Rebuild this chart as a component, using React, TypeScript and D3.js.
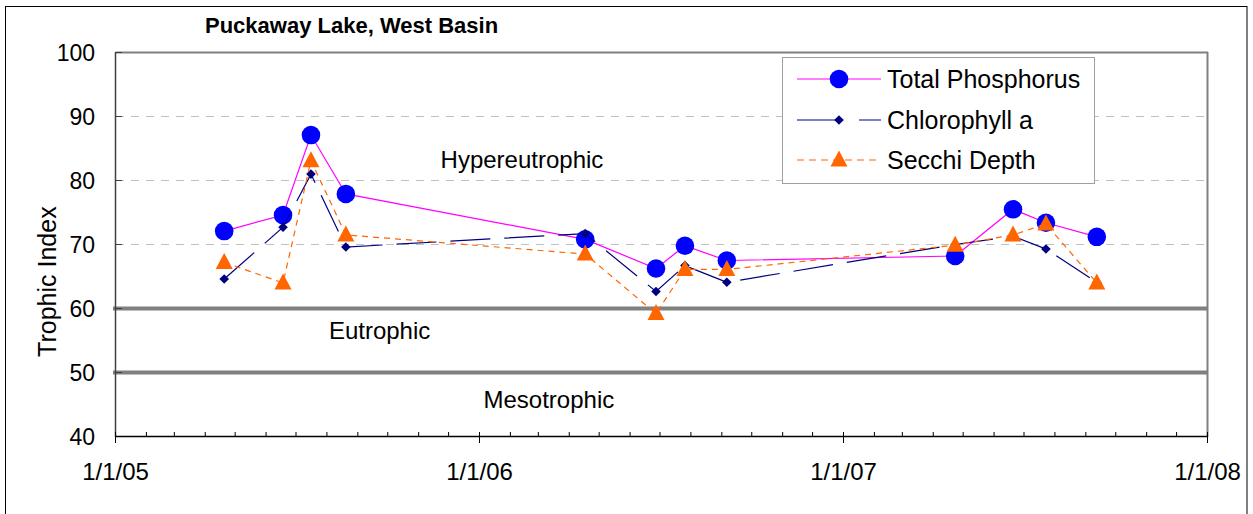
import React from "react";
import * as d3 from "d3";

const tpDates = ["2005-04-20","2005-06-18","2005-07-16","2005-08-20","2006-04-17","2006-06-27","2006-07-26","2006-09-06","2007-04-23","2007-06-20","2007-07-23","2007-09-12"];
const tpValues = [72.1, 74.6, 87.1, 77.9, 70.8, 66.25, 69.8, 67.5, 68.2, 75.5, 73.4, 71.2];
const chlValues = [64.6, 72.7, 81.0, 69.6, 71.7, 62.65, 66.7, 64.1, 70.0, 71.3, 69.3, 64.1];
const secchiValues = [67.2, 64.0, 83.1, 71.5, 68.5, 59.2, 66.1, 66.1, 69.9, 71.5, 73.2, 64.0];
const xTickLabels = ["1/1/05", "1/1/06", "1/1/07", "1/1/08"];
const yTicks = [40, 50, 60, 70, 80, 90, 100];
const gridValues = [70, 80, 90];
const boundaryValues = [50, 60];
const zones = [
  { name: "Hypereutrophic", value: 83.3, date: "2005-11-23" },
  { name: "Eutrophic", value: 56.6, date: "2005-08-03" },
  { name: "Mesotrophic", value: 45.7, date: "2006-01-05" },
];
const seriesNames = ["Total Phosphorus", "Chlorophyll a", "Secchi Depth"];
const title = "Puckaway Lake, West Basin";
const yTitle = "Trophic Index";

const FONT = "'Liberation Sans', Arial, sans-serif";

export default function App() {
  const W = 1253, H = 514;
  const parse = d3.utcParse("%Y-%m-%d");
  const x = d3.scaleUtc()
    .domain([parse("2005-01-01")!, parse("2008-01-01")!])
    .range([115.5, 1207.5]);
  const y = d3.scaleLinear().domain([40, 100]).range([436.5, 52.5]);
  const dates = tpDates.map((d) => parse(d)!);
  const majorTicks = d3.utcYear.range(parse("2005-01-01")!, parse("2008-01-02")!);
  const minorTicks = d3.utcMonth.range(parse("2005-01-01")!, parse("2008-01-01")!);
  const line = d3.line<[Date, number]>().x((d) => x(d[0])).y((d) => y(d[1]));
  const mk = (vals: number[]) => dates.map((d, i) => [d, vals[i]] as [Date, number]);

  const circle = (cx: number, cy: number, k: string) => (
    <circle key={k} cx={cx} cy={cy} r={9.3} fill="#0000FF" />
  );
  const diamond = (cx: number, cy: number, k: string) => (
    <path key={k} d={`M${cx},${cy - 4.8}L${cx + 4.8},${cy}L${cx},${cy + 4.8}L${cx - 4.8},${cy}Z`} fill="#000080" />
  );
  const tri = (cx: number, cy: number, k: string) => (
    <path key={k} d={`M${cx},${cy - 9.5}L${cx + 8.5},${cy + 6.5}L${cx - 8.5},${cy + 6.5}Z`} fill="#FF6600" />
  );

  const series = [
    { vals: tpValues, stroke: "#FF00FF", dash: undefined, marker: circle },
    { vals: chlValues, stroke: "#000080", dash: "40,14", marker: diamond },
    { vals: secchiValues, stroke: "#FF6600", dash: "6,5", marker: tri },
  ];

  const legendX = 782, legendY = 57, legendW = 312, legendH = 126;
  const legendRows = [79, 120, 160];

  return (
    <svg width={W} height={H} style={{ position: "absolute", left: 0, top: 0, display: "block" }} fontFamily={FONT}>
      <rect x={0} y={0} width={W} height={H} fill="#fff" />
      <rect x={5.5} y={6.5} width={1241.5} height={520} fill="#fff" stroke="#000" strokeWidth={1} />
      <text x={205} y={33} fontSize={22} fontWeight="bold">{title}</text>

      {gridValues.map((v) => (
        <line key={v} x1={116} x2={1207} y1={y(v)} y2={y(v)} stroke="#C0C0C0" strokeWidth={1} strokeDasharray="8,7" />
      ))}
      {boundaryValues.map((v) => (
        <line key={v} x1={113} x2={1208} y1={y(v)} y2={y(v)} stroke="#808080" strokeWidth={4} />
      ))}
      <line x1={115.5} x2={1208} y1={52.5} y2={52.5} stroke="#808080" strokeWidth={2} />
      <line x1={1207.5} x2={1207.5} y1={52} y2={437} stroke="#808080" strokeWidth={2} />
      <line x1={115.5} x2={115.5} y1={52} y2={437} stroke="#404040" strokeWidth={1.5} />
      {yTicks.map((v) => (
        <g key={v}>
          <line x1={115.5} x2={122} y1={y(v)} y2={y(v)} stroke="#404040" strokeWidth={1} />
          <text x={95} y={y(v)} dy="0.35em" textAnchor="end" fontSize={23}>{v}</text>
        </g>
      ))}
      <line x1={115.5} x2={1208} y1={436.5} y2={436.5} stroke="#000" strokeWidth={1.5} />
      {minorTicks.map((d, i) => (
        <line key={"m" + i} x1={x(d)} x2={x(d)} y1={436.5} y2={432} stroke="#000" strokeWidth={1} />
      ))}
      {majorTicks.map((d, i) => (
        <g key={"M" + i}>
          <line x1={x(d)} x2={x(d)} y1={432} y2={443} stroke="#000" strokeWidth={1} />
          <text x={x(d)} y={480} textAnchor="middle" fontSize={24}>{xTickLabels[i]}</text>
        </g>
      ))}
      <text transform={`translate(56,${y(64.2)}) rotate(-90)`} textAnchor="middle" fontSize={25}>{yTitle}</text>

      {zones.map((z) => (
        <text key={z.name} x={x(parse(z.date)!)} y={y(z.value)} dy="0.35em" textAnchor="start" fontSize={24}>{z.name}</text>
      ))}

      {series.map((s, si) => (
        <g key={si}>
          <path d={line(mk(s.vals)) || ""} fill="none" stroke={s.stroke} strokeWidth={1.2} strokeDasharray={s.dash} />
          {mk(s.vals).map((p, i) => s.marker(x(p[0]), y(p[1]), si + "-" + i))}
        </g>
      ))}

      <rect x={legendX + 0.5} y={legendY + 0.5} width={legendW} height={legendH} fill="#fff" stroke="#A0A0A0" strokeWidth={1} />
      {series.map((s, i) => (
        <g key={"lg" + i}>
          <line x1={797} x2={881} y1={legendRows[i]} y2={legendRows[i]} stroke={s.stroke} strokeWidth={1.2} strokeDasharray={s.dash ? (i === 1 ? "42,20" : "7,5") : undefined} />
          {s.marker(839, legendRows[i], "lm" + i)}
          <text x={887} y={legendRows[i]} dy="0.35em" fontSize={25}>{seriesNames[i]}</text>
        </g>
      ))}
    </svg>
  );
}
